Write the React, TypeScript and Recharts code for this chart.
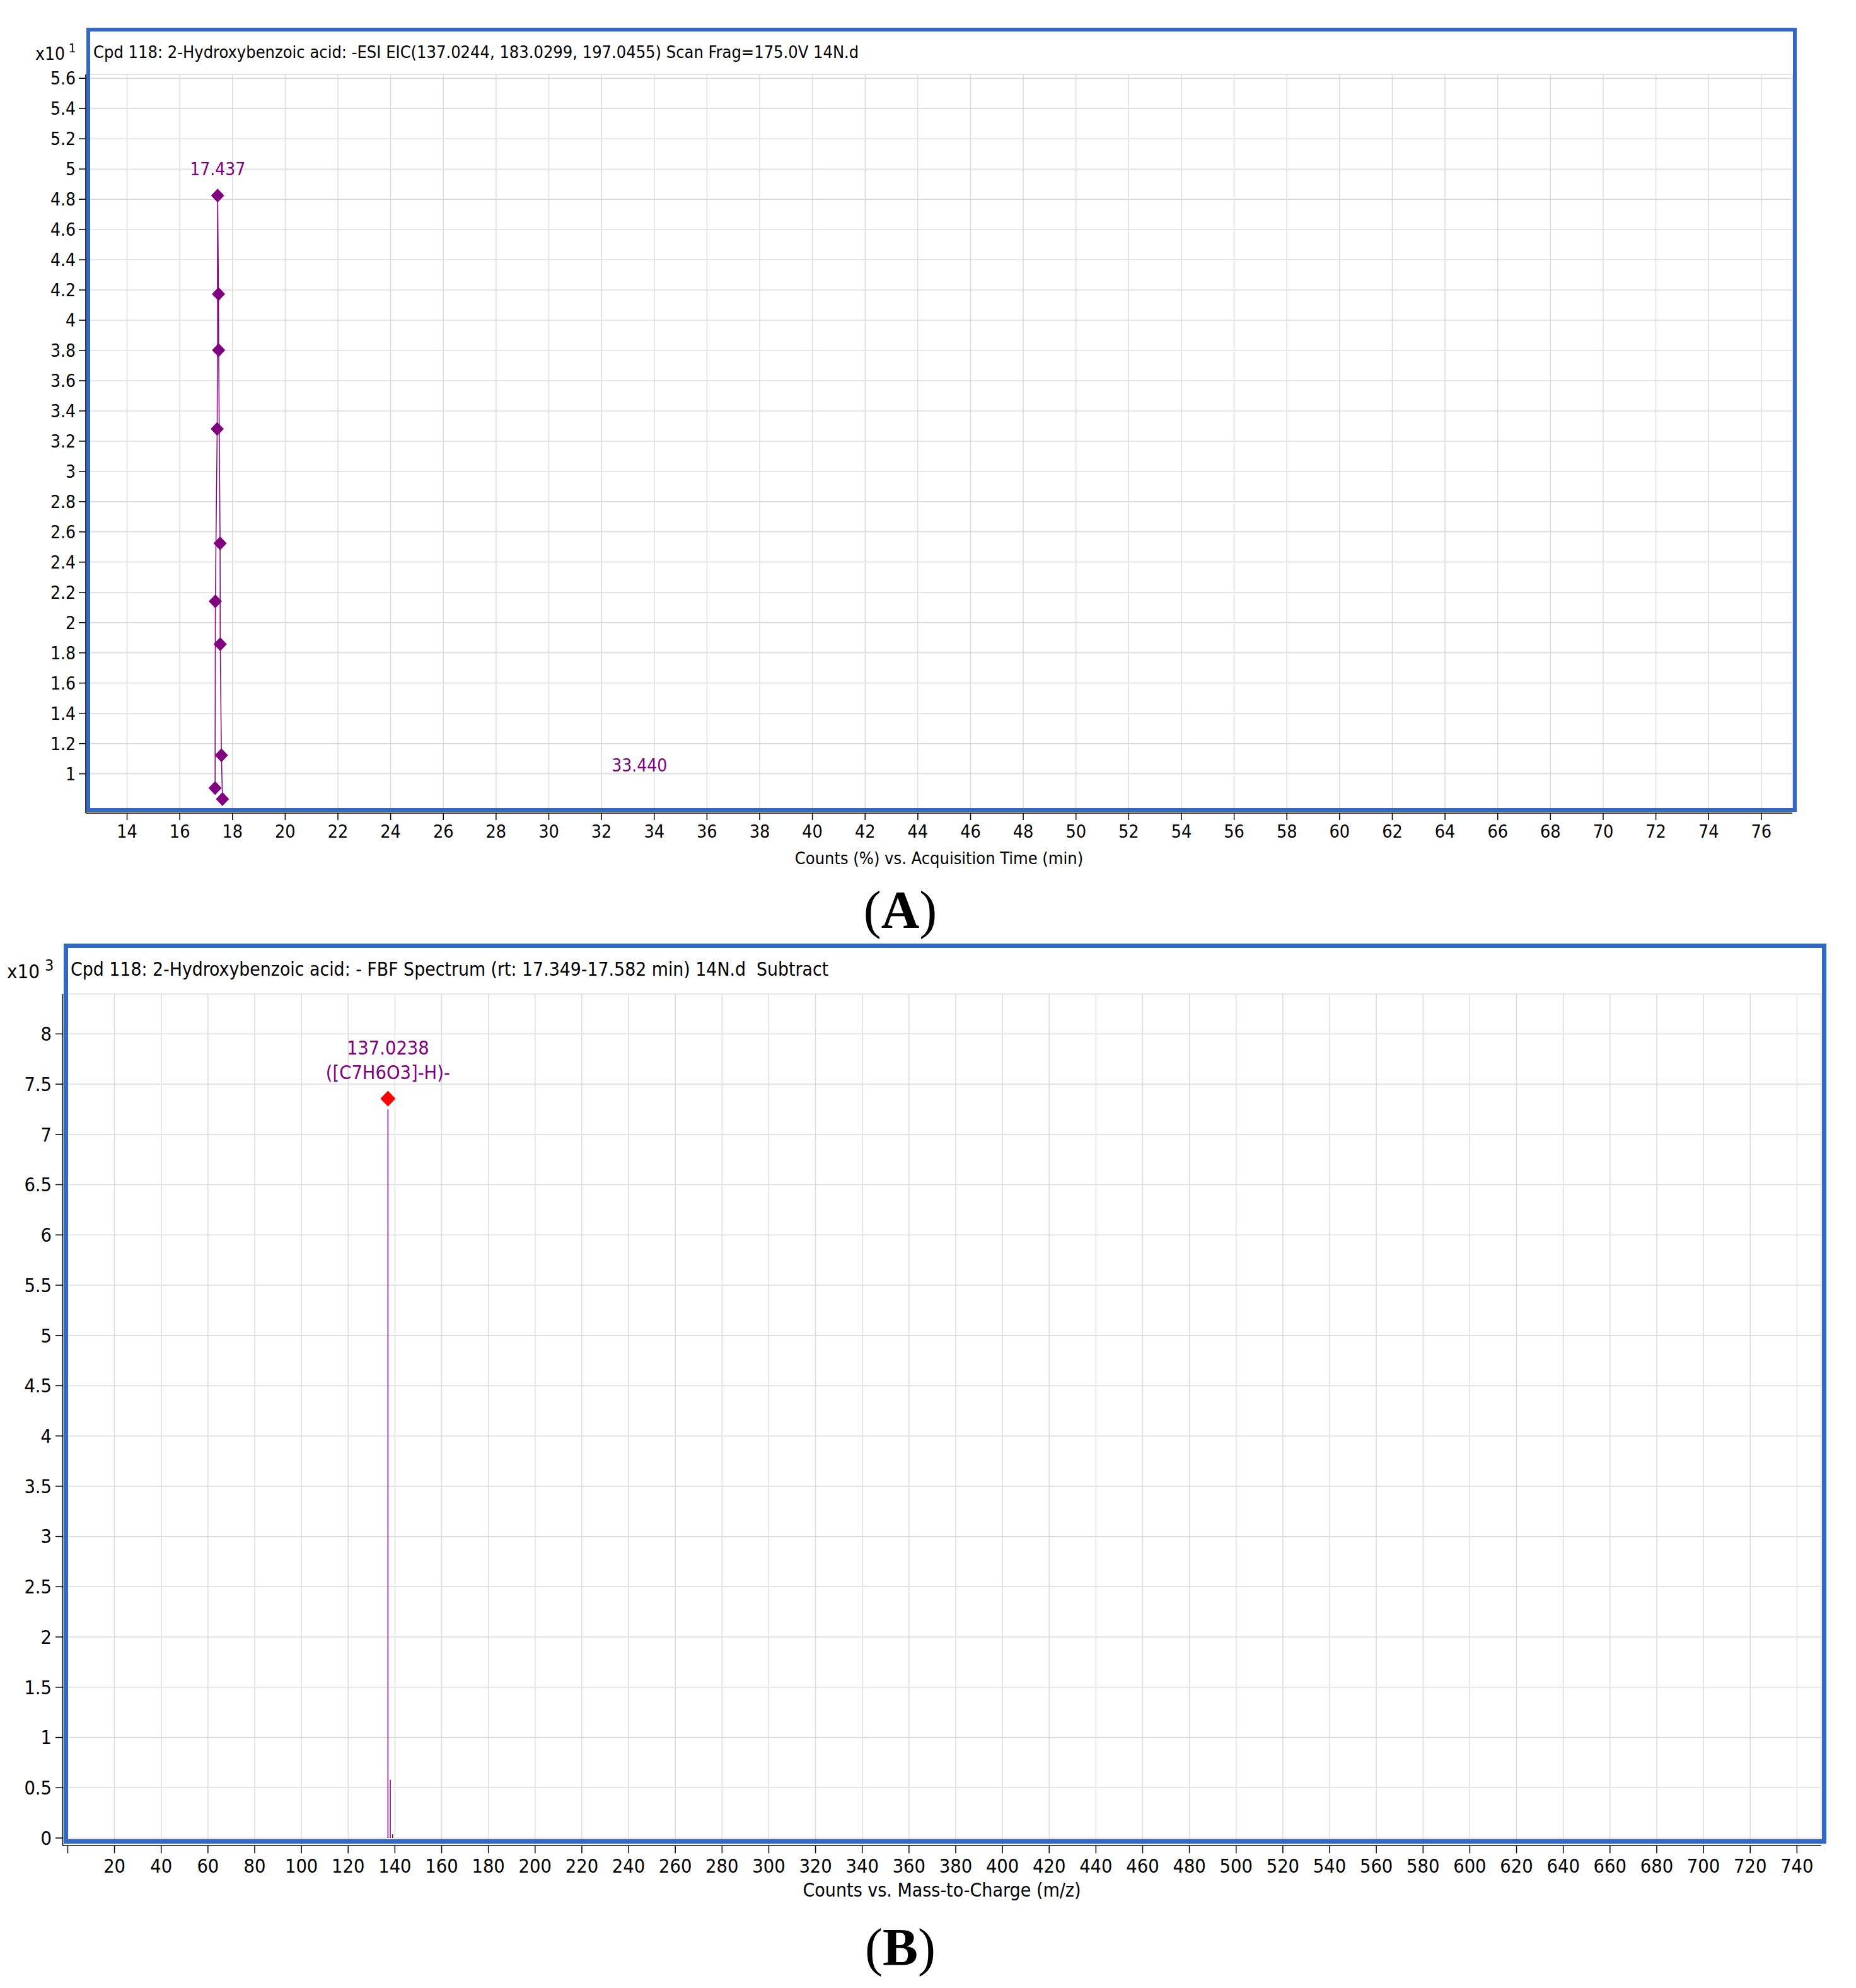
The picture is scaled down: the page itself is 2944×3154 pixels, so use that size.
import React from 'react';
import { ComposedChart, Line, Scatter, XAxis, YAxis, CartesianGrid, ReferenceLine } from 'recharts';

// ---------- Panel A: EIC ----------
const eicTimes = [17.34, 17.35, 17.42, 17.437, 17.47, 17.475, 17.53, 17.535, 17.58, 17.62];
const eicCounts = [0.906, 2.141, 3.281, 4.825, 4.173, 3.802, 2.524, 1.857, 1.123, 0.833];
const eicPeakTimes = [17.437, 33.44];
const eicPeakCounts = [4.825, 0.882];
const eicPeakLabels = ['17.437', '33.440'];
const timeTicks = [14, 16, 18, 20, 22, 24, 26, 28, 30, 32, 34, 36, 38, 40, 42, 44, 46, 48, 50, 52, 54, 56, 58, 60, 62, 64, 66, 68, 70, 72, 74, 76];
const countTicks = [1, 1.2, 1.4, 1.6, 1.8, 2, 2.2, 2.4, 2.6, 2.8, 3, 3.2, 3.4, 3.6, 3.8, 4, 4.2, 4.4, 4.6, 4.8, 5, 5.2, 5.4, 5.6];

// ---------- Panel B: Spectrum ----------
const specMz = [137.0238, 138.027, 139.02];
const specIntensity = [7.25, 0.58, 0.038];
const specPeakMz = [137.0238];
const specPeakIntensity = [7.25];
const specPeakLabels = [['137.0238', '([C7H6O3]-H)-']];
const mzTicks = [0, 20, 40, 60, 80, 100, 120, 140, 160, 180, 200, 220, 240, 260, 280, 300, 320, 340, 360, 380, 400, 420, 440, 460, 480, 500, 520, 540, 560, 580, 600, 620, 640, 660, 680, 700, 720, 740];
const intensityTicks = [0, 0.5, 1, 1.5, 2, 2.5, 3, 3.5, 4, 4.5, 5, 5.5, 6, 6.5, 7, 7.5, 8];

const eicData = eicTimes.map((t, i) => ({ time: t, count: eicCounts[i] }));
const eicPeaks = eicPeakTimes.map((t, i) => ({ time: t, count: eicPeakCounts[i], label: eicPeakLabels[i] }));
const specSticks = specMz.map((m, i) => ({ mz: m, intensity: specIntensity[i] }));
const specPeaks = specPeakMz.map((m, i) => ({ mz: m, intensity: specPeakIntensity[i], labels: specPeakLabels[i] }));

const NARROW = "'Liberation Sans Narrow', 'Arial Narrow', 'DejaVu Sans Condensed', 'Liberation Sans', sans-serif";
const SERIF = "'Liberation Serif', 'Times New Roman', serif";
const PURPLE = '#800080';
const BLUE = '#3169C4';
const GRID = '#dcdcdc';

const diamondDot = (props: any) => {
  const { cx, cy, index } = props;
  if (cx == null || cy == null) return <g key={`dd-${index}`} />;
  const w = 10.5, h = 11;
  return (
    <path
      key={`dd-${index}`}
      d={`M${cx},${cy - h} L${cx + w},${cy} L${cx},${cy + h} L${cx - w},${cy} Z`}
      fill={PURPLE}
      stroke="none"
    />
  );
};

const eicLabelShape = (props: any) => {
  const { cx, cy, payload } = props;
  return (
    <text x={cx} y={cy - 32} textAnchor="middle" fill={PURPLE} fontSize={28} fontFamily={NARROW}>
      {payload.label}
    </text>
  );
};

const specLabelShape = (props: any) => {
  const { cx, cy, payload } = props;
  const w = 12, h = 12.5, my = cy - 17;
  return (
    <g>
      <path d={`M${cx},${my - h} L${cx + w},${my} L${cx},${my + h} L${cx - w},${my} Z`} fill="#ff0000" />
      <text x={cx} y={cy - 87} textAnchor="middle" fill={PURPLE} fontSize={30.5} fontFamily={NARROW}>
        {payload.labels[0]}
      </text>
      <text x={cx} y={cy - 48} textAnchor="middle" fill={PURPLE} fontSize={30.5} fontFamily={NARROW}>
        {payload.labels[1]}
      </text>
    </g>
  );
};

const fmt = (v: number) => String(v);
const fmtMz = (v: number) => (v === 0 ? '' : String(v));

export default function App() {
  return (
    <div style={{ position: 'absolute', left: 0, top: 0, width: 2944, height: 3154, background: '#fff', overflow: 'hidden' }}>
      {/* Panel A */}
      <div style={{ position: 'absolute', left: 0, top: 0 }}>
        <ComposedChart width={2944} height={1400} data={eicData} margin={{ top: 118, right: 101, bottom: 50, left: 0 }}>
          <CartesianGrid stroke={GRID} strokeWidth={1.5} />
          <XAxis
            type="number"
            dataKey="time"
            domain={[12.433, 77.176]}
            allowDataOverflow
            ticks={timeTicks}
            interval={0}
            tickFormatter={fmt}
            height={60}
            tickSize={11}
            tickMargin={8}
            axisLine={{ stroke: '#000', strokeWidth: 1.5 }}
            tickLine={{ stroke: '#000', strokeWidth: 1.5 }}
            tick={{ fill: '#000', fontSize: 28.5, fontFamily: NARROW }}
          />
          <YAxis
            type="number"
            dataKey="count"
            domain={[0.74, 5.626]}
            allowDataOverflow
            ticks={countTicks}
            interval={0}
            tickFormatter={fmt}
            width={136}
            tickSize={11}
            tickMargin={5}
            axisLine={{ stroke: '#000', strokeWidth: 1.5 }}
            tickLine={{ stroke: '#000', strokeWidth: 1.5 }}
            tick={{ fill: '#000', fontSize: 28, fontFamily: NARROW }}
          />
          <Line
            type="linear"
            dataKey="count"
            stroke={PURPLE}
            strokeWidth={1.5}
            dot={diamondDot}
            activeDot={false}
            isAnimationActive={false}
          />
          <Scatter data={eicPeaks} dataKey="count" shape={eicLabelShape} isAnimationActive={false} />
        </ComposedChart>
      </div>

      {/* Panel B */}
      <div style={{ position: 'absolute', left: 0, top: 1450 }}>
        <ComposedChart width={2944} height={1600} data={specSticks} margin={{ top: 127, right: 55.5, bottom: 61.7, left: 0 }}>
          <CartesianGrid stroke={GRID} strokeWidth={1.5} />
          <XAxis
            type="number"
            dataKey="mz"
            domain={[-2.15, 750.3]}
            allowDataOverflow
            ticks={mzTicks}
            interval={0}
            tickFormatter={fmtMz}
            height={60}
            tickSize={12}
            tickMargin={9}
            axisLine={{ stroke: '#000', strokeWidth: 1.5 }}
            tickLine={{ stroke: '#000', strokeWidth: 1.5 }}
            tick={{ fill: '#000', fontSize: 30.5, fontFamily: NARROW }}
          />
          <YAxis
            type="number"
            dataKey="intensity"
            domain={[-0.077, 8.397]}
            allowDataOverflow
            ticks={intensityTicks}
            interval={0}
            tickFormatter={fmt}
            width={99.5}
            tickSize={11.5}
            tickMargin={6}
            axisLine={{ stroke: '#000', strokeWidth: 1.5 }}
            tickLine={{ stroke: '#000', strokeWidth: 1.5 }}
            tick={{ fill: '#000', fontSize: 30.5, fontFamily: NARROW }}
          />
          {specSticks.map((s, i) => (
            <ReferenceLine
              key={`stick-${i}`}
              segment={[{ x: s.mz, y: 0 }, { x: s.mz, y: s.intensity }]}
              stroke={PURPLE}
              strokeWidth={1.5}
            />
          ))}
          <Scatter data={specPeaks} dataKey="intensity" shape={specLabelShape} isAnimationActive={false} />
        </ComposedChart>
      </div>

      {/* Frames, titles and annotations */}
      <svg width={2944} height={3154} style={{ position: 'absolute', left: 0, top: 0, pointerEvents: 'none' }}>
        <rect x={140} y={47} width={2707} height={1238} fill="none" stroke={BLUE} strokeWidth={6} />
        <text x={148} y={92} fontSize={27} fontFamily={NARROW} fill="#000">
          Cpd 118: 2-Hydroxybenzoic acid: -ESI EIC(137.0244, 183.0299, 197.0455) Scan Frag=175.0V 14N.d
        </text>
        <text x={56} y={95} fontSize={28} fontFamily={NARROW} fill="#000">x10</text>
        <text x={109} y={83} fontSize={20} fontFamily={NARROW} fill="#000">1</text>
        <text x={1489.5} y={1371} textAnchor="middle" fontSize={27} fontFamily={NARROW} fill="#000">
          Counts (%) vs. Acquisition Time (min)
        </text>
        <text x={1428} y={1472} textAnchor="middle" fontSize={84} fontFamily={SERIF} fill="#000">
          (<tspan fontWeight="bold">A</tspan>)
        </text>

        <rect x={104.5} y={1500.5} width={2789} height={1421} fill="none" stroke={BLUE} strokeWidth={7} />
        <text x={112} y={1548} fontSize={29.8} fontFamily={NARROW} fill="#000" style={{ whiteSpace: 'pre' }}>
          {'Cpd 118: 2-Hydroxybenzoic acid: - FBF Spectrum (rt: 17.349-17.582 min) 14N.d  Subtract'}
        </text>
        <text x={11} y={1552} fontSize={31} fontFamily={NARROW} fill="#000">x10</text>
        <text x={71} y={1540} fontSize={25} fontFamily={NARROW} fill="#000">3</text>
        <text x={1494} y={3009} textAnchor="middle" fontSize={30} fontFamily={NARROW} fill="#000">
          Counts vs. Mass-to-Charge (m/z)
        </text>
        <text x={1428} y={3118} textAnchor="middle" fontSize={84} fontFamily={SERIF} fill="#000">
          (<tspan fontWeight="bold">B</tspan>)
        </text>
      </svg>
    </div>
  );
}
